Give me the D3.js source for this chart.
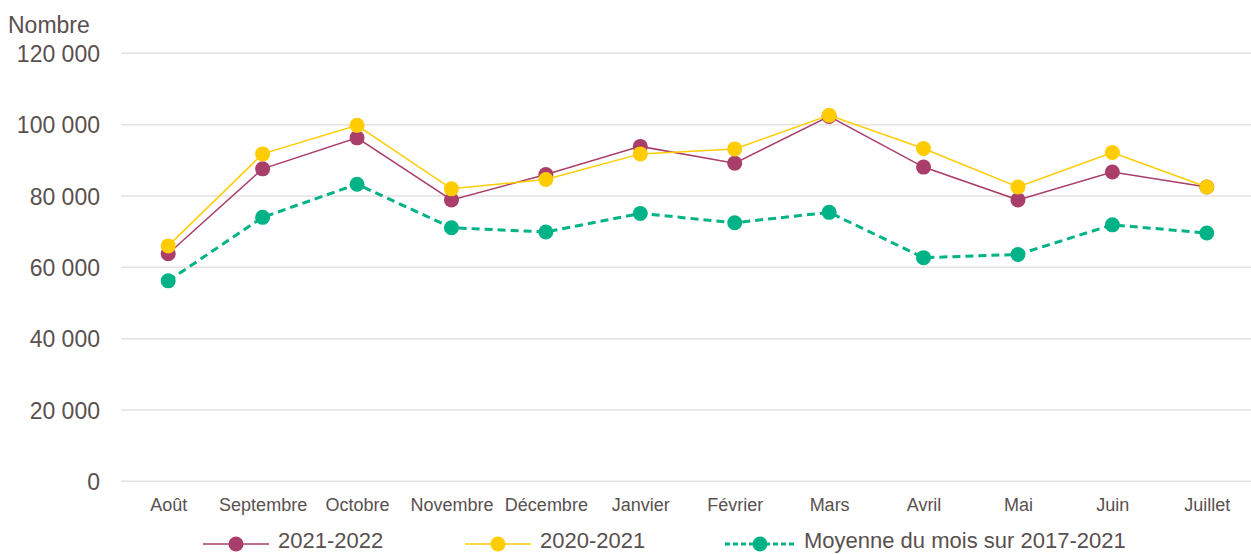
<!DOCTYPE html>
<meta charset="utf-8">
<script src="https://d3js.org/d3.v7.min.js"></script>
<style>
    body { margin: 0; background: #fff; }
    text { font-family: "Liberation Sans", Arial, sans-serif; fill: #595050; }
</style>
<div id="chart"></div>
<script>
    // data
    var months = ["Août", "Septembre", "Octobre", "Novembre", "Décembre", "Janvier",
        "Février", "Mars", "Avril", "Mai", "Juin", "Juillet"];
    var values2122 = [63800, 87600, 96300, 78900, 86000, 93900, 89200, 102300, 88100, 78900, 86700, 82500];
    var values2021 = [66000, 91800, 99800, 82000, 84600, 91800, 93200, 102600, 93300, 82500, 92200, 82500];
    var valuesAvg = [56200, 74000, 83300, 71100, 69900, 75100, 72500, 75400, 62700, 63600, 71900, 69600];
    var yTicks = [0, 20000, 40000, 60000, 80000, 100000, 120000];

    var series = [
        { name: "2021-2022", values: values2122, color: "#a83e69", width: 1.5, dash: null },
        { name: "2020-2021", values: values2021, color: "#ffcc00", width: 1.5, dash: null },
        { name: "Moyenne du mois sur 2017-2021", values: valuesAvg, color: "#00b386", width: 3, dash: "8,5" }
    ];

    var W = 1251, H = 554;
    var svg = d3.select("#chart").append("svg")
        .attr("width", W)
        .attr("height", H);

    var x = d3.scalePoint()
        .domain(months)
        .range([121, 1254])
        .padding(0.5);

    var y = d3.scaleLinear()
        .domain([0, 120000])
        .range([481.3, 53.3]);

    var fmt = function (d) { return d3.format(",")(d).replace(/,/g, " "); };

    // gridlines
    svg.append("g")
        .selectAll("line")
        .data(yTicks)
        .enter()
        .append("line")
        .attr("x1", 121)
        .attr("x2", W)
        .attr("y1", function (d) { return y(d); })
        .attr("y2", function (d) { return y(d); })
        .attr("stroke", "#e5e2e0")
        .attr("stroke-width", 1.5);

    // y axis labels
    var yAxis = svg.append("g")
        .attr("transform", "translate(100,0)")
        .call(d3.axisLeft(y).tickValues(yTicks).tickFormat(fmt).tickSize(0).tickPadding(0));
    yAxis.select(".domain").remove();
    yAxis.selectAll("text")
        .style("font-size", "23px")
        .attr("dy", "0.35em")
        .attr("fill", "#595050");

    svg.append("text")
        .attr("x", 8)
        .attr("y", 33)
        .style("font-size", "23px")
        .text("Nombre");

    // x axis labels
    var xAxis = svg.append("g")
        .attr("transform", "translate(0,511)")
        .call(d3.axisBottom(x).tickSize(0).tickPadding(0));
    xAxis.select(".domain").remove();
    xAxis.selectAll("text")
        .attr("y", 0)
        .attr("dy", 0)
        .style("font-size", "18px")
        .attr("fill", "#595050");

    // lines + markers
    var line = d3.line()
        .x(function (d, i) { return x(months[i]); })
        .y(function (d) { return y(d); });

    series.forEach(function (s) {
        svg.append("path")
            .datum(s.values)
            .attr("fill", "none")
            .attr("stroke", s.color)
            .attr("stroke-width", s.width)
            .attr("stroke-dasharray", s.dash)
            .attr("d", line);

        svg.append("g")
            .selectAll("circle")
            .data(s.values)
            .enter()
            .append("circle")
            .attr("cx", function (d, i) { return x(months[i]); })
            .attr("cy", function (d) { return y(d); })
            .attr("r", 7.5)
            .attr("fill", s.color);
    });

    // legend
    var legendX = [203, 465, 725];
    var legendW = [66, 66, 70];
    var legendY = 544;
    series.forEach(function (s, i) {
        var g = svg.append("g");
        g.append("line")
            .attr("x1", legendX[i])
            .attr("x2", legendX[i] + legendW[i])
            .attr("y1", legendY)
            .attr("y2", legendY)
            .attr("stroke", s.color)
            .attr("stroke-width", s.width)
            .attr("stroke-dasharray", s.dash ? "5,3" : null);
        g.append("circle")
            .attr("cx", legendX[i] + legendW[i] / 2)
            .attr("cy", legendY)
            .attr("r", 7.5)
            .attr("fill", s.color);
        g.append("text")
            .attr("x", legendX[i] + legendW[i] + 9)
            .attr("y", 548)
            .style("font-size", "22px")
            .text(s.name);
    });
</script>
